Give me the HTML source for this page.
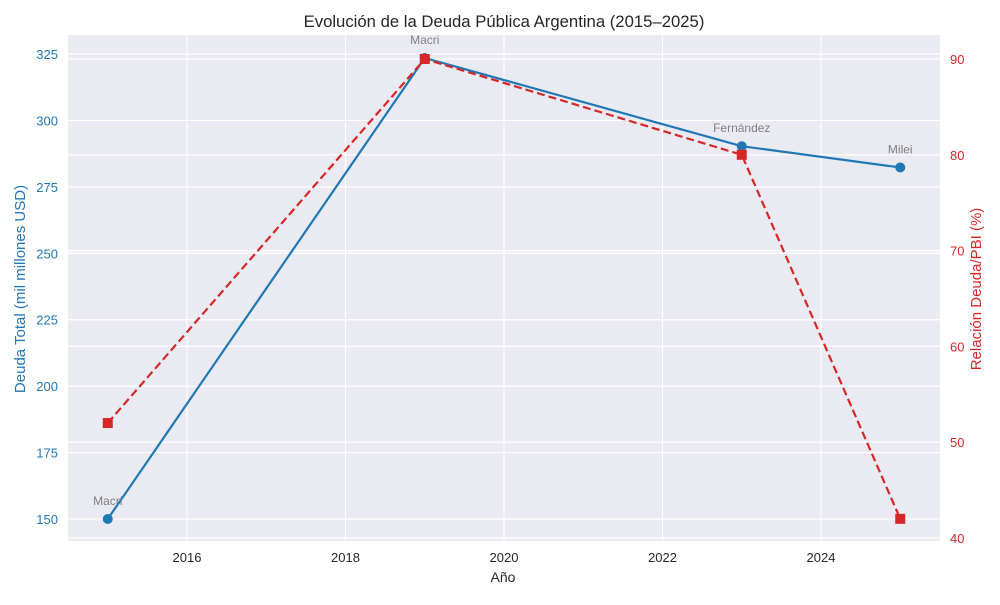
<!DOCTYPE html>
<html><head><meta charset="utf-8"><style>
body{margin:0;background:#fff;font-family:"Liberation Sans",sans-serif}
svg text{font-family:"Liberation Sans",sans-serif}
</style></head><body>
<svg id="c" width="1000" height="600" xmlns="http://www.w3.org/2000/svg"></svg>
<script>
const years=[2015,2019,2023,2025];
const debt=[150,323.5,290.3,282.3];
const ratio=[52,90,80,42];
const labels=["Macri","Macri","Fernández","Milei"];
const xTicks=[2016,2018,2020,2022,2024];
const yLeftTicks=[150,175,200,225,250,275,300,325];
const yRightTicks=[40,50,60,70,80,90];

const svg=document.getElementById('c');
const NS='http://www.w3.org/2000/svg';
const L=68,R=940,T=35,B=541;
const x=v=>187+(v-2016)*79.25;
const yl=v=>519-(v-150)*(465/175);
const yr=v=>538-(v-40)*(479/50);
function el(tag,attrs,name,txt){const e=document.createElementNS(NS,tag);for(const k in attrs)e.setAttribute(k,attrs[k]);


if(txt!==undefined)e.textContent=txt;svg.appendChild(e);return e;}
el('rect',{x:L,y:T,width:R-L,height:B-T,fill:'#eaeaf2'},'plot-area');
xTicks.forEach(t=>{el('line',{x1:x(t),x2:x(t),y1:T,y2:B,stroke:'#fff','stroke-width':1.2},'x-grid-line');
el('text',{x:x(t),y:562,'text-anchor':'middle','font-size':13,fill:'#262626'},'x-tick-label',t);});
yLeftTicks.forEach(t=>{el('line',{x1:L,x2:R,y1:yl(t),y2:yl(t),stroke:'#fff','stroke-width':1.2},'y-left-grid-line');
el('text',{x:58,y:yl(t)+5,'text-anchor':'end','font-size':13,fill:'#1f77b4'},'y-left-tick-label',t);});
yRightTicks.forEach(t=>{el('line',{x1:L,x2:R,y1:yr(t),y2:yr(t),stroke:'#fff','stroke-width':1.2},'y-right-grid-line');
el('text',{x:950,y:yr(t)+5,'text-anchor':'start','font-size':13,fill:'#d62728'},'y-right-tick-label',t);});
el('polyline',{points:years.map((y,i)=>x(y)+','+yl(debt[i])).join(' '),fill:'none',stroke:'#1f77b4','stroke-width':2.2},'debt-line');
years.forEach((y,i)=>el('circle',{cx:x(y),cy:yl(debt[i]),r:5,fill:'#1f77b4'},'debt-point'));
el('polyline',{points:years.map((y,i)=>x(y)+','+yr(ratio[i])).join(' '),fill:'none',stroke:'#d62728','stroke-width':2.2,'stroke-dasharray':'8,4'},'ratio-line');
years.forEach((y,i)=>el('rect',{x:x(y)-5,y:yr(ratio[i])-5,width:10,height:10,fill:'#d62728'},'ratio-point'));
years.forEach((y,i)=>el('text',{x:x(y),y:yl(debt[i])-14,'text-anchor':'middle','font-size':12,fill:'#808080'},'president-annotation',labels[i]));
el('text',{x:504,y:27,'text-anchor':'middle','font-size':16.7,fill:'#262626'},'chart-title','Evolución de la Deuda Pública Argentina (2015–2025)');
el('text',{x:503,y:582,'text-anchor':'middle','font-size':14,fill:'#262626'},'x-axis-title','Año');
el('text',{x:0,y:0,'text-anchor':'middle','font-size':15,fill:'#1f77b4',transform:'translate(25,289) rotate(-90)'},'y-left-axis-title','Deuda Total (mil millones USD)');
el('text',{x:0,y:0,'text-anchor':'middle','font-size':15,fill:'#d62728',transform:'translate(981,289) rotate(-90)'},'y-right-axis-title','Relación Deuda/PBI (%)');
</script>
</body></html>
